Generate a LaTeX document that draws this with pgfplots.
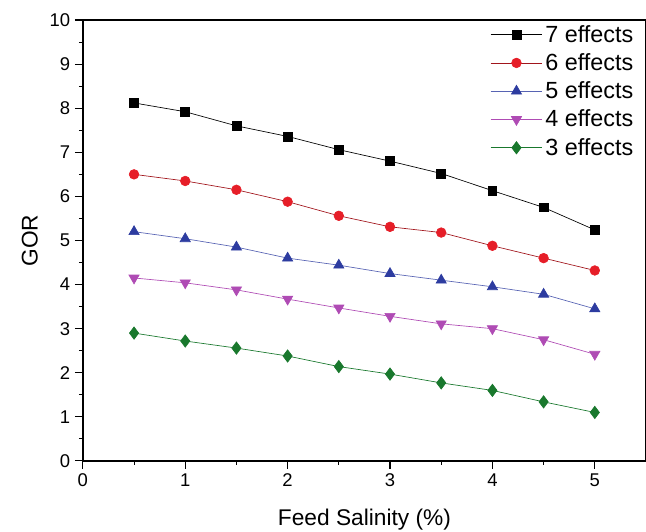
\documentclass[border=0pt]{standalone}
\usepackage{fontspec}
\setmainfont{Liberation Sans}
\usepackage{pgfplots}
\pgfplotsset{compat=1.18}
\definecolor{cred}{RGB}{230,30,40}
\definecolor{cblue}{RGB}{45,60,160}
\definecolor{cmag}{RGB}{175,75,180}
\definecolor{cgreen}{RGB}{25,120,45}
\begin{document}
\begin{tikzpicture}
\begin{axis}[
  scale only axis,
  width=421.5pt, height=330pt,
  xmin=0, xmax=5.5, ymin=0, ymax=10,
  xtick={0,1,2,3,4,5}, ytick={0,1,...,10},
  minor xtick={0.5,1.5,2.5,3.5,4.5},
  minor ytick={0.5,1.5,...,9.5},
  tick pos=left, tick align=outside,
  major tick length=6pt, minor tick length=3pt,
  every tick/.style={black, line width=0.8pt},
  axis line style={line width=1pt},
  /pgf/number format/assume math mode=true,
  ticklabel style={font=\fontsize{13.8}{16}\selectfont},
  xlabel={Feed Salinity (\%)}, ylabel={GOR},
  label style={font=\fontsize{17}{19}\selectfont},
  xlabel style={yshift=-10pt},
  ylabel style={yshift=2pt},
  legend style={draw=none, fill=none, at={(0.985,0.998)}, anchor=north east,
    font=\fontsize{17.5}{19}\selectfont, row sep=3pt, inner sep=1pt},
  legend cell align=left,
  legend image code/.code={\draw[mark repeat=2,mark phase=2] plot coordinates {(0cm,0cm)(0.68cm,0cm)(1.36cm,0cm)};},
]
\addplot[black, line width=0.5pt, mark=square*, mark size=3.3pt, mark options={fill=black}] coordinates {
(0.5,8.12)(1,7.92)(1.5,7.6)(2,7.36)(2.5,7.06)(3,6.8)(3.5,6.52)(4,6.13)(4.5,5.75)(5,5.24)};
\addlegendentry{7 effects}
\addplot[cred!70!black, line width=0.5pt, mark=*, mark size=3.6pt, mark options={fill=cred, draw=cred}] coordinates {
(0.5,6.5)(1,6.35)(1.5,6.15)(2,5.88)(2.5,5.56)(3,5.31)(3.5,5.18)(4,4.88)(4.5,4.6)(5,4.32)};
\addlegendentry{6 effects}
\addplot[cblue!80!white, line width=0.5pt, mark=triangle*, mark size=4.4pt, mark options={fill=cblue, draw=cblue}] coordinates {
(0.5,5.2)(1,5.04)(1.5,4.85)(2,4.6)(2.5,4.44)(3,4.25)(3.5,4.1)(4,3.95)(4.5,3.78)(5,3.45)};
\addlegendentry{5 effects}
\addplot[cmag, line width=0.5pt, mark=triangle*, mark size=4.4pt, mark options={rotate=180, fill=cmag, draw=cmag}] coordinates {
(0.5,4.15)(1,4.04)(1.5,3.88)(2,3.67)(2.5,3.47)(3,3.28)(3.5,3.11)(4,3.0)(4.5,2.75)(5,2.42)};
\addlegendentry{4 effects}
\addplot[cgreen, line width=0.5pt, mark=diamond*, mark size=4.6pt, mark options={fill=cgreen, draw=cgreen}] coordinates {
(0.5,2.9)(1,2.72)(1.5,2.56)(2,2.38)(2.5,2.14)(3,1.97)(3.5,1.77)(4,1.6)(4.5,1.34)(5,1.1)};
\addlegendentry{3 effects}
\end{axis}
\pgfresetboundingbox
\path (current axis.south west) ++(-62pt,-53pt) rectangle ([yshift=15pt]current axis.north east);
\end{tikzpicture}
\end{document}
